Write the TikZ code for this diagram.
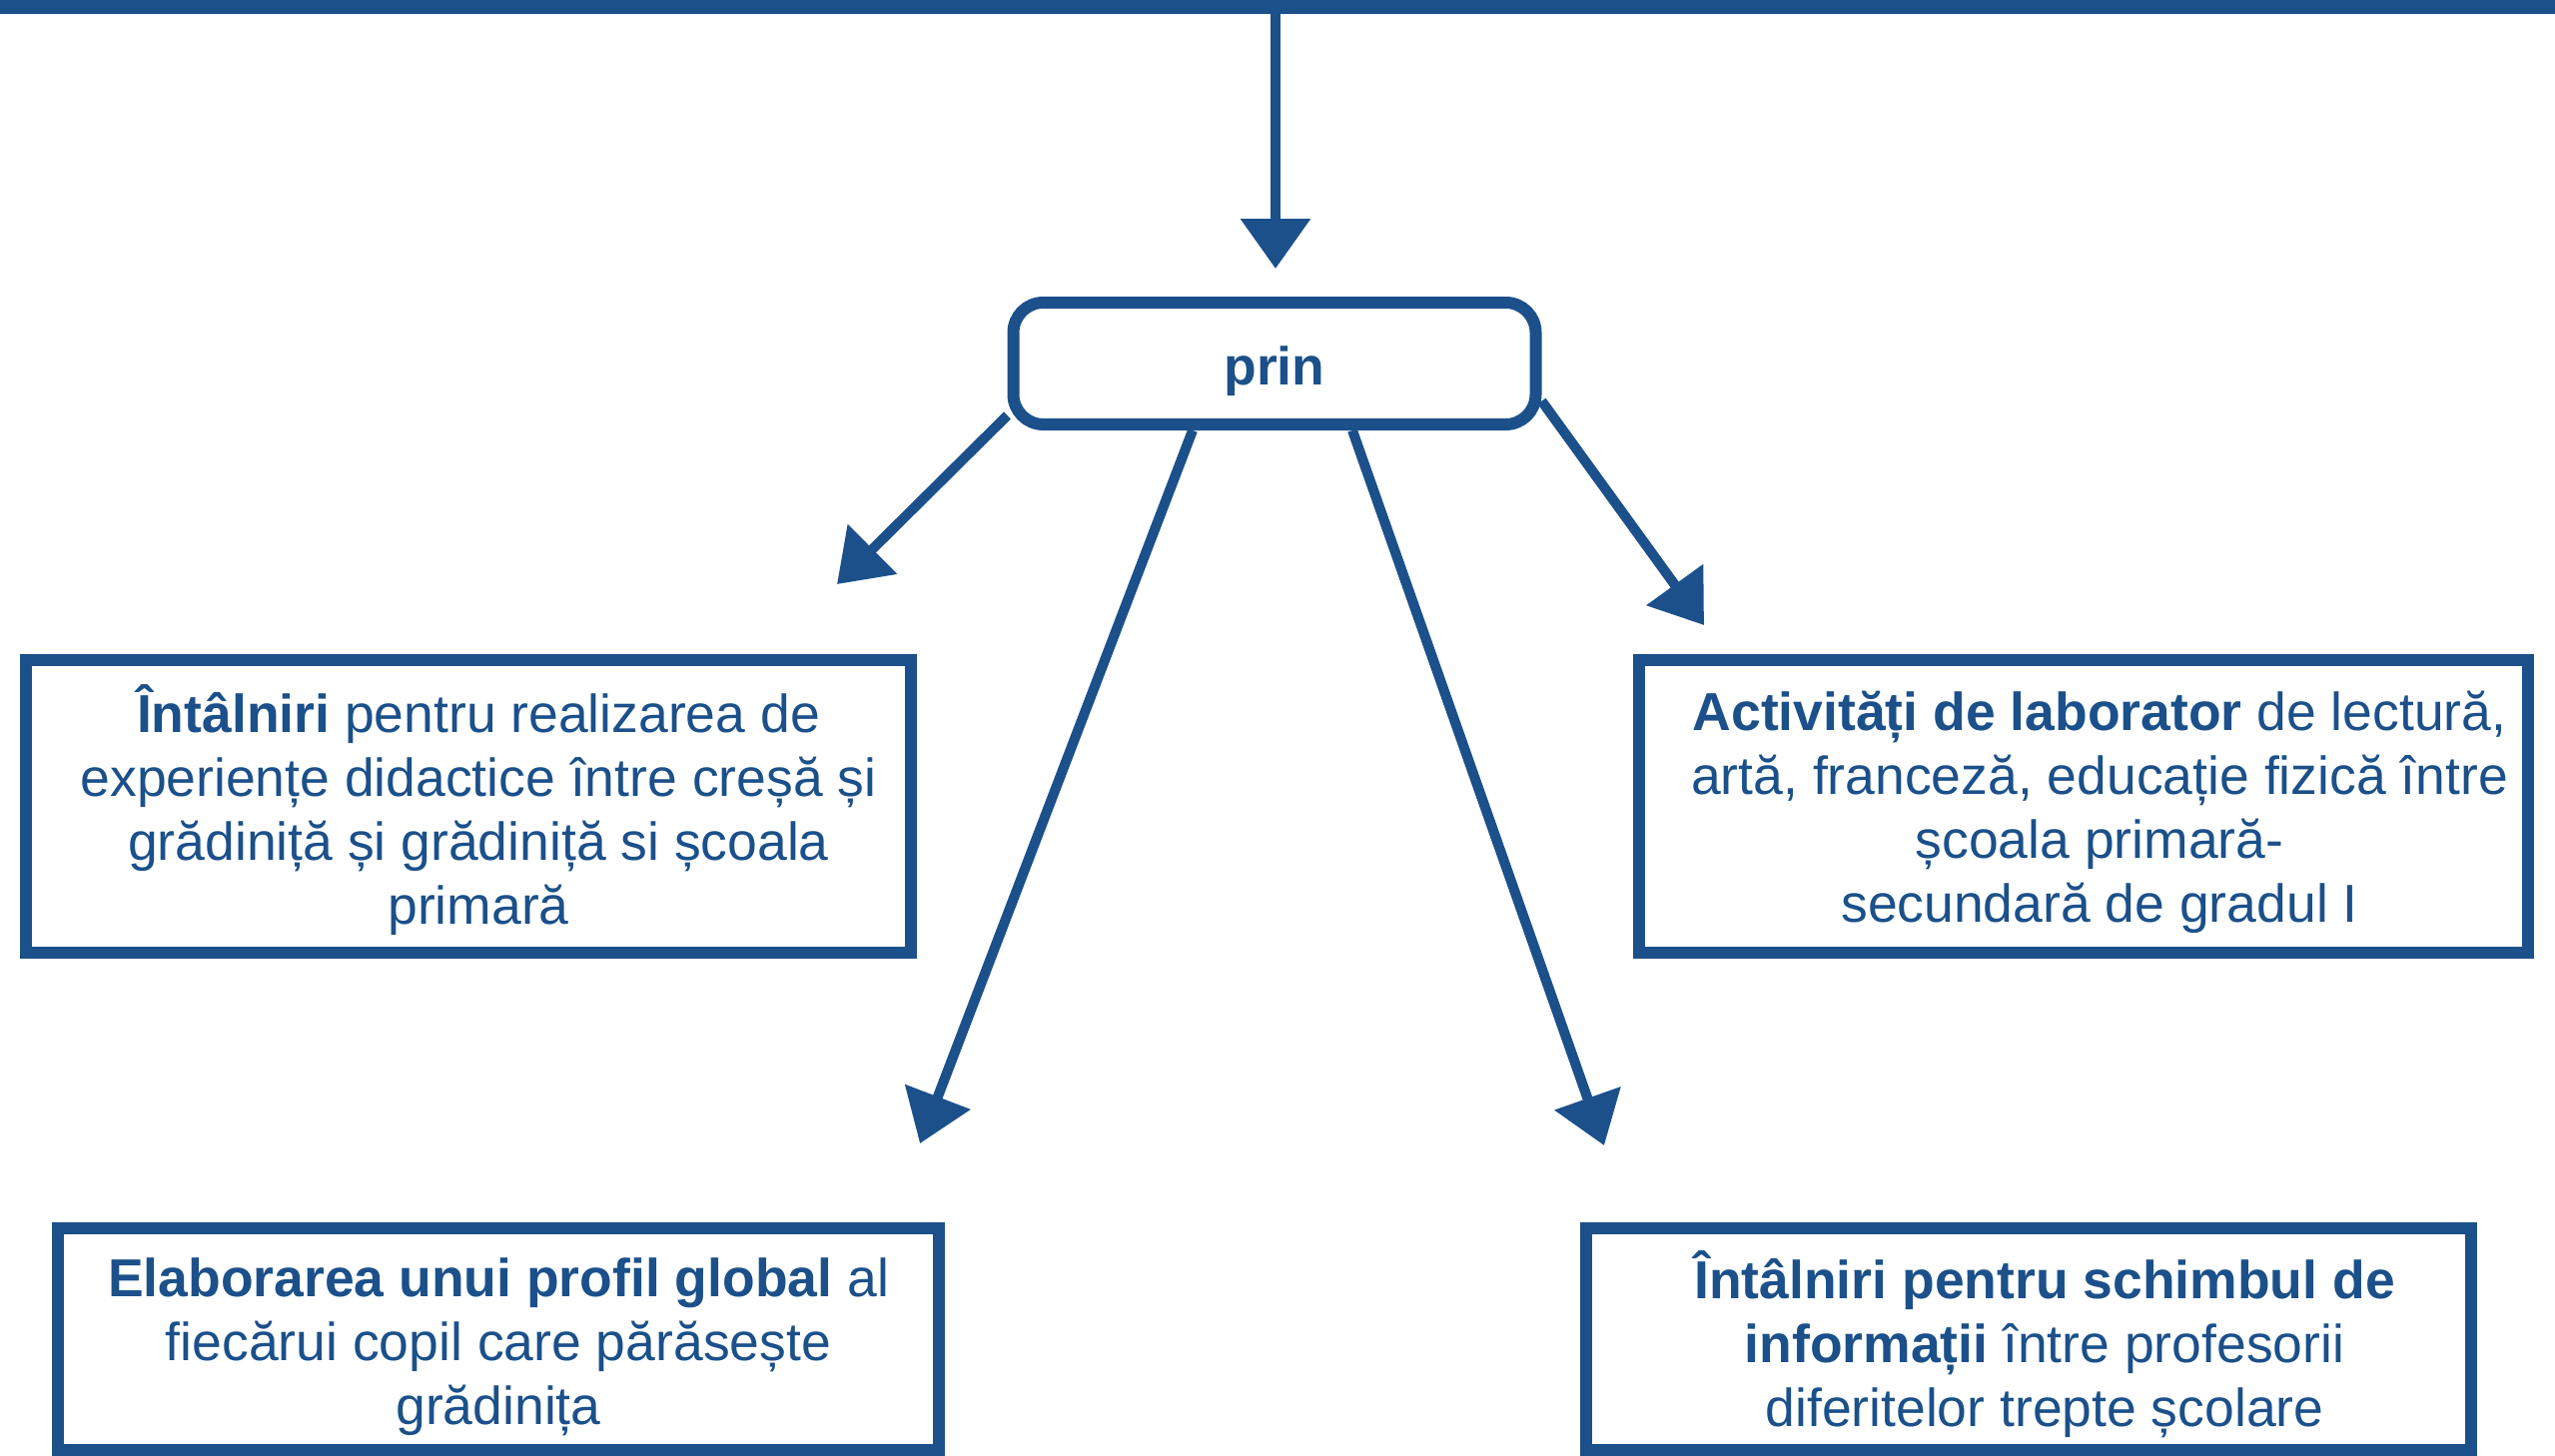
\documentclass[tikz,border=0pt]{standalone}
\usepackage{fontspec}
\setmainfont{Liberation Sans}
\usetikzlibrary{arrows.meta,calc}
\definecolor{chalk}{RGB}{27,80,138}
\begin{document}
\begin{tikzpicture}[x=1pt,y=-1pt,
  box/.style={draw=chalk, line width=12pt, inner sep=0pt},
  txt/.style={text=chalk, align=center, inner sep=0pt,
    font=\fontsize{53.5}{64}\selectfont},
  conn/.style={draw=chalk, line width=10pt, -{Triangle[length=50pt,width=68pt]}},
  topline/.style={draw=chalk, line width=14pt},
]
\useasboundingbox (0,0) rectangle (2558,1457);
\fill[white] (0,0) rectangle (2558,1457);

% top line and arrow into "prin"
\coordinate (tl) at (0,7);
\coordinate (tr) at (2558,7);
\draw[topline] (tl) -- (tr);
\coordinate (top) at (1277,7);
\coordinate (t0) at (1277,269);
\draw[conn] (top) -- (t0);

\node[box, rounded corners=30pt, minimum width=523pt, minimum height=122pt] (prin) at (1276,364) {};
\node[txt, font=\bfseries\fontsize{53.5}{64}\selectfont] (print) at (1276,372) {prin};

\node[box, minimum width=886pt, minimum height=293pt] (b1) at (469,807) {};
\node[txt] (b1t) at (479,811)
  {\textbf{Întâlniri} pentru realizarea de\\experiențe didactice între creșă și\\grădiniță și grădiniță si școala\\primară};
\node[box, minimum width=890pt, minimum height=293pt] (b2) at (2086,807) {};
\node[txt] (b2t) at (2102,813)
  {\textbf{Activități de laborator} de lectură,\\artă, franceză, educație fizică între\\școala primară-\\secundară de gradul I};
\node[box, minimum width=882pt, minimum height=222pt] (b3) at (499,1341) {};
\node[txt] (b3t) at (499,1349)
  {\textbf{Elaborarea unui profil global} al\\fiecărui copil care părăsește\\grădinița};
\node[box, minimum width=886pt, minimum height=222pt] (b4) at (2031,1341) {};
\node[txt] (b4t) at (2047,1346)
  {\textbf{Întâlniri pentru schimbul de}\\\textbf{informații} între profesorii\\diferitelor trepte școlare};

\coordinate (t1) at (838,585);
\coordinate (t2) at (921,1145);
\coordinate (t3) at (1606,1147);
\coordinate (t4) at (1706,626);
\draw[conn] (prin.191) -- (t1);
\draw[conn] ($(prin.south)+(-82,0)$) -- (t2);
\draw[conn] ($(prin.south)+(78,0)$) -- (t3);
\draw[conn] (prin.-8) -- (t4);
\end{tikzpicture}
\end{document}
